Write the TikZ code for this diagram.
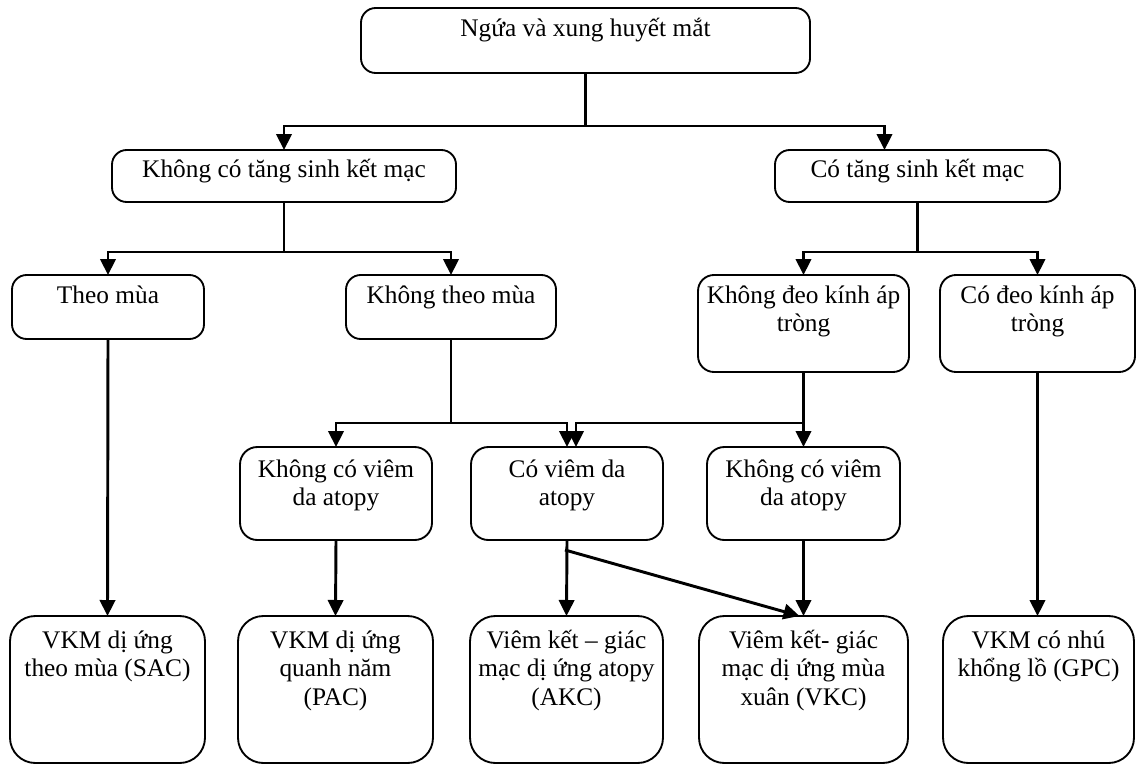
\documentclass[tikz,border=0pt]{standalone}
\usepackage{fontspec}
\setmainfont{Liberation Serif}
\usetikzlibrary{arrows.meta,calc}
\lineskiplimit=-20pt
\tikzset{
  box/.style={draw, line width=1.4pt, inner sep=0pt, outer sep=0pt,
    font=\fontsize{19pt}{21.5pt}\selectfont},
  conn/.style={line width=2.2pt},
  arr/.style={conn, -{Triangle[width=11.5pt,length=12pt]}},
}
% name, x1, y1, x2, y2, first baseline, corner radius, text
\newcommand{\bx}[8]{%
  \pgfmathsetmacro\bw{0.75*(#4-#2)}%
  \pgfmathsetmacro\bh{0.75*(#5-#3)}%
  \node[box, rounded corners=#7] (#1) at ({(#2+#4)/2},{(#3+#5)/2})
    {\begin{minipage}[c][\bh pt][t]{\bw pt}\centering\rule{0pt}{#6}#8\end{minipage}};%
}
\begin{document}
\begin{tikzpicture}[x=0.75pt,y=-0.75pt]
\useasboundingbox (0,0) rectangle (1137,767);

% boxes
\bx{top}{361}{8}{810}{73}{21.5pt}{11pt}{Ngứa và xung huyết mắt}
\bx{A}{112}{150}{456}{202}{20.5pt}{11pt}{Không có tăng sinh kết mạc}
\bx{B}{775}{150}{1060}{202}{20.5pt}{11pt}{Có tăng sinh kết mạc}
\bx{theo}{12}{275}{204}{339}{21pt}{11pt}{Theo mùa}
\bx{ktheo}{346}{275}{556}{339}{21pt}{11pt}{Không theo mùa}
\bx{kdeo}{698}{275}{909}{372}{21pt}{12pt}{Không đeo kính áp\\tròng}
\bx{cdeo}{940}{275}{1135}{372}{21pt}{12pt}{Có đeo kính áp\\tròng}
\bx{kcv1}{240}{447}{432}{540}{22.5pt}{13pt}{Không có viêm\\da atopy}
\bx{cv}{471}{447}{663}{540}{22.5pt}{13pt}{Có viêm da\\atopy}
\bx{kcv2}{707}{447}{900}{540}{22.5pt}{13pt}{Không có viêm\\da atopy}
\bx{sac}{10}{616}{205}{763}{24pt}{19pt}{VKM dị ứng\\theo mùa (SAC)}
\bx{pac}{238}{616}{433}{763}{24pt}{19pt}{VKM dị ứng\\quanh năm\\(PAC)}
\bx{akc}{470}{616}{663}{763}{24pt}{19pt}{Viêm kết – giác\\mạc dị ứng atopy\\(AKC)}
\bx{vkc}{699}{616}{908}{763}{24pt}{19pt}{Viêm kết- giác\\mạc dị ứng mùa\\xuân (VKC)}
\bx{gpc}{943}{616}{1134}{763}{24pt}{19pt}{VKM có nhú\\khổng lồ (GPC)}

% junction coordinates
\coordinate (j0) at ($(top.south)+(0,53)$);
\coordinate (bIn) at ($(B.north)+(-33,0)$);
\coordinate (jA) at ($(A.south)+(0,50)$);
\coordinate (jB) at ($(B.south)+(0,50)$);
\coordinate (jK) at ($(ktheo.south)+(0,84)$);
\coordinate (jD) at ($(kdeo.south)+(0,51)$);
\coordinate (cvIn) at ($(cv.north)+(9,0)$);
\coordinate (dS) at ($(cv.south)+(-2,10)$);
\coordinate (vIn) at ($(vkc.north)+(-4,0)$);

% connectors
\draw[arr] (top.south) -- (j0) -| (A.north);
\draw[arr] (j0) -| (bIn);
\draw[arr] (A.south) -- (jA) -| (theo.north);
\draw[arr] (jA) -| (ktheo.north);
\draw[arr] (B.south) -- (jB) -| (kdeo.north);
\draw[arr] (jB) -| (cdeo.north);
\draw[arr] (theo.south) -- (sac.north);
\draw[arr] (ktheo.south) -- (jK) -| (kcv1.north);
\draw[arr] (jK) -| (cv.north);
\draw[arr] (kdeo.south) -- (kcv2.north);
\draw[arr] (jD) -| (cvIn);
\draw[arr] (cdeo.south) -- (cdeo.south |- gpc.north);
\draw[arr] (kcv1.south) -- (pac.north);
\draw[arr] (cv.south) -- (akc.north);
\draw[arr] (kcv2.south) -- (vkc.north);
\draw[arr] (dS) -- (vIn);
\end{tikzpicture}
\end{document}
